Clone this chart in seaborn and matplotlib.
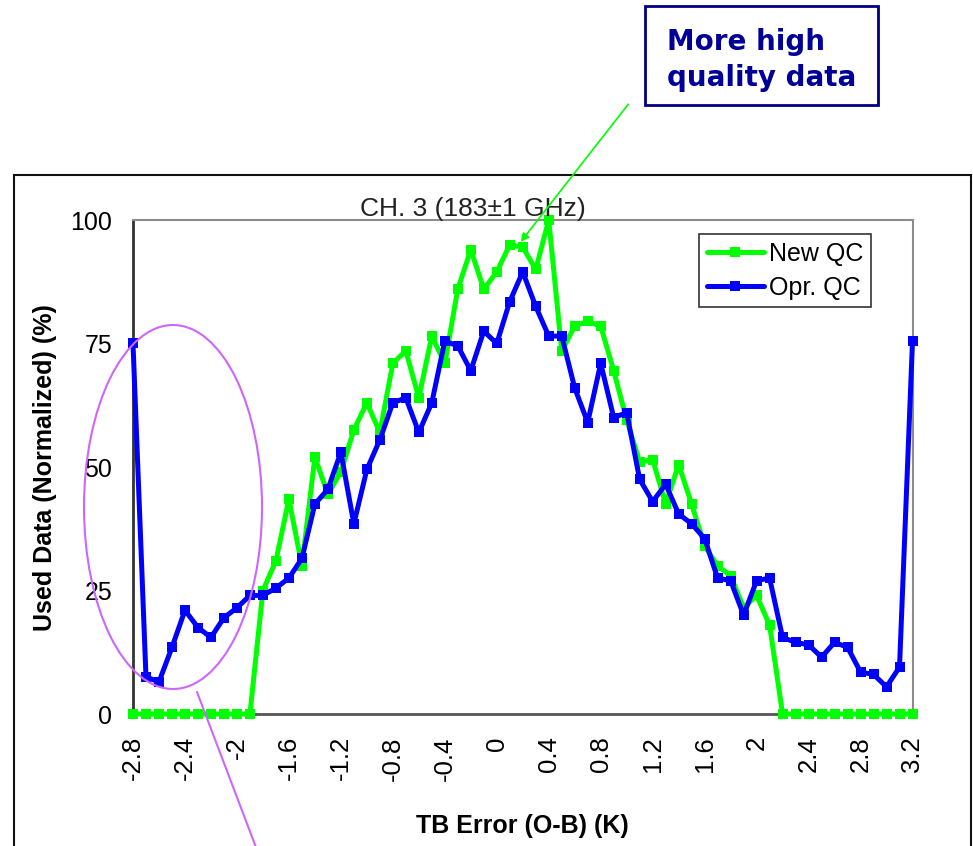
import matplotlib
matplotlib.use("Agg")
import matplotlib.pyplot as plt
import matplotlib.patches as mpatches
from matplotlib.lines import Line2D
import seaborn as sns
import pandas as pd

# ---------------- data ----------------
tb_error = [-2.8, -2.7, -2.6, -2.5, -2.4, -2.3, -2.2, -2.1, -2.0, -1.9,
            -1.8, -1.7, -1.6, -1.5, -1.4, -1.3, -1.2, -1.1, -1.0, -0.9,
            -0.8, -0.7, -0.6, -0.5, -0.4, -0.3, -0.2, -0.1, 0.0, 0.1,
            0.2, 0.3, 0.4, 0.5, 0.6, 0.7, 0.8, 0.9, 1.0, 1.1,
            1.2, 1.3, 1.4, 1.5, 1.6, 1.7, 1.8, 1.9, 2.0, 2.1,
            2.2, 2.3, 2.4, 2.5, 2.6, 2.7, 2.8, 2.9, 3.0, 3.1, 3.2]

new_qc = [0, 0, 0, 0, 0, 0, 0, 0, 0, 0,
          25, 31, 43.5, 30, 52, 44.5, 49, 57.5, 63, 57,
          71, 73.5, 64, 76.5, 71, 86, 94, 86, 89.5, 95,
          94.5, 90, 100, 73.5, 78.5, 79.5, 78.5, 69.5, 59.5, 51,
          51.5, 42.5, 50.5, 42.5, 34, 30, 28, 21.5, 24, 18,
          0, 0, 0, 0, 0, 0, 0, 0, 0, 0, 0]

opr_qc = [75, 7.5, 6.5, 13.5, 21, 17.5, 15.5, 19.5, 21.5, 24,
          24, 25.5, 27.5, 31.5, 42.5, 45.5, 53, 38.5, 49.5, 55.5,
          63, 64, 57, 63, 75.5, 74.5, 69.5, 77.5, 75, 83.5,
          89.5, 82.5, 76.5, 76.5, 66, 59, 71, 60, 61, 47.5,
          43, 46.5, 40.5, 38.5, 35.5, 27.5, 27, 20, 27, 27.5,
          15.5, 14.5, 14, 11.5, 14.5, 13.5, 8.5, 8, 5.5, 9.5, 75.5]

series_names = ["New QC", "Opr. QC"]
series_colors = ["#00FF00", "#0000FF"]

xtick_values = [-2.8, -2.4, -2.0, -1.6, -1.2, -0.8, -0.4, 0.0, 0.4, 0.8,
                1.2, 1.6, 2.0, 2.4, 2.8, 3.2]
xtick_labels = ["-2.8", "-2.4", "-2", "-1.6", "-1.2", "-0.8", "-0.4", "0",
                "0.4", "0.8", "1.2", "1.6", "2", "2.4", "2.8", "3.2"]
ytick_values = [0, 25, 50, 75, 100]
ytick_labels = ["0", "25", "50", "75", "100"]

title_text = "CH. 3 (183\u00b11 GHz)"
xlabel_text = "TB Error (O-B) (K)"
ylabel_text = "Used Data (Normalized) (%)"
callout_lines = ["More high", "quality data"]

# ---------------- style ----------------
sns.set_style("white")
plt.rcParams["font.family"] = ["Liberation Sans", "DejaVu Sans"]
plt.rcParams["text.color"] = "black"
plt.rcParams["xtick.color"] = "black"
plt.rcParams["ytick.color"] = "black"
plt.rcParams["xtick.labelcolor"] = "black"
plt.rcParams["ytick.labelcolor"] = "black"

W, H = 973, 846
fig = plt.figure(figsize=(W / 100, H / 100), dpi=100)
fig.patch.set_facecolor("white")


def fx(x):
    return x / W


def fy(y):
    return 1 - y / H


ax_left, ax_right, ax_top, ax_bottom = 133, 912.5, 220, 714
ax = fig.add_axes([fx(ax_left), fy(ax_bottom),
                   (ax_right - ax_left) / W, (ax_bottom - ax_top) / H])
ax.set_facecolor("white")

df = pd.DataFrame({"tb": tb_error * 2,
                   "val": new_qc + opr_qc,
                   "series": [series_names[0]] * len(new_qc) + [series_names[1]] * len(opr_qc)})

for name, col in zip(series_names, series_colors):
    sub = df[df["series"] == name]
    sns.lineplot(data=sub, x="tb", y="val", ax=ax, color=col, linewidth=3.6,
                 marker="s", markersize=7.5, markeredgewidth=0, label=name,
                 clip_on=False, zorder=3)

ax.set_xlim(tb_error[0], tb_error[-1])
ax.set_ylim(0, 100)

# ticks
ax.set_xticks(xtick_values)
ax.set_xticklabels(xtick_labels, rotation=90, fontsize=18.5, color="black")
ax.set_xticks(tb_error, minor=True)
ax.set_yticks(ytick_values)
ax.set_yticklabels(ytick_labels, fontsize=18, color="black")
ax.set_yticks(list(range(0, 101, 5)), minor=True)
ax.tick_params(axis="both", which="both", direction="out", length=6,
               width=1.2, color="#404040")
ax.tick_params(axis="x", which="both", length=7, pad=9)
ax.tick_params(axis="y", which="both", pad=9)
for lab in ax.get_xticklabels():
    lab.set_va("top")
ax.set_xlabel("")
ax.set_ylabel("")

for side in ["top", "right"]:
    ax.spines[side].set_color("#8c8c8c")
    ax.spines[side].set_linewidth(1.5)
ax.spines["left"].set_color("#333333")
ax.spines["left"].set_linewidth(2)
ax.spines["bottom"].set_color("#555555")
ax.spines["bottom"].set_linewidth(2)

# legend
leg = ax.legend(loc="upper right", bbox_to_anchor=(fx(871), fy(234)),
                bbox_transform=fig.transFigure, borderaxespad=0,
                fontsize=18, frameon=True, fancybox=False, framealpha=1,
                edgecolor="#333333", handlelength=2.3, handletextpad=0.2,
                labelspacing=0.4, borderpad=0.3)
leg.get_frame().set_linewidth(1.2)
for t in leg.get_texts():
    t.set_color("black")

# title and axis labels
fig.text(fx(473), fy(209), title_text, ha="center", va="center",
         fontsize=19, color="#222222")
fig.text(fx(522), fy(826), xlabel_text, ha="center", va="center",
         fontsize=18, fontweight="bold", color="black")
fig.text(fx(45), fy(468), ylabel_text, ha="center", va="center",
         rotation=90, rotation_mode="anchor", fontsize=18, fontweight="bold",
         color="black")

# outer chart border
fig.add_artist(mpatches.Rectangle((fx(14), fy(870)), (971 - 14) / W, (870 - 175) / H,
                                  transform=fig.transFigure, fill=False,
                                  edgecolor="#111111", linewidth=1.5))

# callout box
fig.add_artist(mpatches.Rectangle((fx(645), fy(105)), (878 - 645) / W, (105 - 6) / H,
                                  transform=fig.transFigure, facecolor="white",
                                  edgecolor="#000080", linewidth=2))
fig.text(fx(667), fy(50), callout_lines[0], ha="left", va="baseline",
         fontsize=20, fontweight="bold", color="#000099", family="DejaVu Sans")
fig.text(fx(667), fy(86), callout_lines[1], ha="left", va="baseline",
         fontsize=20, fontweight="bold", color="#000099", family="DejaVu Sans")

# green arrow
fig.add_artist(mpatches.FancyArrowPatch((fx(630), fy(102)), (fx(519), fy(244)),
                                        transform=fig.transFigure,
                                        arrowstyle="-|>", mutation_scale=12,
                                        color="#00FF00", linewidth=1.2,
                                        zorder=5))

# purple ellipse and pointer line
fig.add_artist(mpatches.Ellipse((fx(173), fy(507)), 178 / W, 364 / H,
                                transform=fig.transFigure, fill=False,
                                edgecolor="#CC66FF", linewidth=1.5, zorder=5))
fig.add_artist(Line2D([fx(197), fx(257)], [fy(692), fy(850)],
                      transform=fig.transFigure, color="#CC66FF",
                      linewidth=1.5, zorder=5))

fig.savefig("out.png", dpi=100, facecolor="white")
